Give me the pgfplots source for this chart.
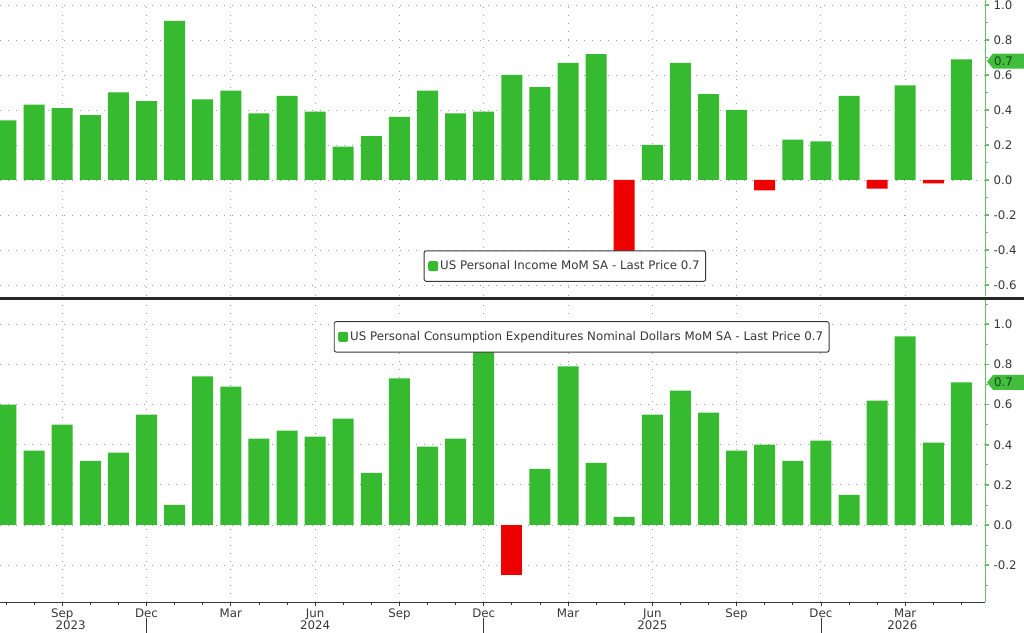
\documentclass[border=0pt]{standalone}
\usepackage{fontspec}
\setmainfont{DejaVu Sans}
\usepackage{pgfplots}
\pgfplotsset{compat=1.18}
\usepackage{pgfplotstable}

\definecolor{bargreen}{RGB}{54,186,48}
\definecolor{barred}{RGB}{238,0,0}
\definecolor{axgreen}{RGB}{100,192,100}
\definecolor{taggreen}{RGB}{66,190,60}
\definecolor{tagtext}{RGB}{25,70,25}
\definecolor{gridgray}{RGB}{165,165,165}
\definecolor{txt}{RGB}{55,55,55}
\definecolor{divider}{RGB}{40,40,40}

\pgfplotstableread{
i inc pce
0 0.34 0.60
1 0.43 0.37
2 0.41 0.50
3 0.37 0.32
4 0.50 0.36
5 0.45 0.55
6 0.91 0.10
7 0.46 0.74
8 0.51 0.69
9 0.38 0.43
10 0.48 0.47
11 0.39 0.44
12 0.19 0.53
13 0.25 0.26
14 0.36 0.73
15 0.51 0.39
16 0.38 0.43
17 0.39 0.87
18 0.60 -0.25
19 0.53 0.28
20 0.67 0.79
21 0.72 0.31
22 -0.42 0.04
23 0.20 0.55
24 0.67 0.67
25 0.49 0.56
26 0.40 0.37
27 -0.06 0.40
28 0.23 0.32
29 0.22 0.42
30 0.48 0.15
31 -0.05 0.62
32 0.54 0.94
33 -0.02 0.41
34 0.69 0.71
}\data

\newcommand\tickfont{\fontsize{11.8}{13}\selectfont}
\newcommand\legfont{\fontsize{11.8}{14}\selectfont}

\pgfplotsset{
  panel/.style={
    scale only axis,
    width=985pt,
    xmin=-0.2135, xmax=34.84,
    clip mode=individual,
    axis y line*=right,
    axis x line*=bottom,
    y axis line style={color=axgreen, line width=0.9pt},
    xtick={2,5,8,11,14,17,20,23,26,29,32},
    minor ytick={-0.5,-0.3,-0.1,0.1,0.3,0.5,0.7,0.9,1.1},
    tick align=outside,
    major tick length=4pt,
    minor tick length=3pt,
    major y tick style={color=axgreen, line width=1.6pt},
    minor y tick style={color=axgreen, line width=0.6pt},
    yticklabel style={font=\tickfont, text=txt, xshift=1pt,
      /pgf/number format/.cd, fixed, fixed zerofill, precision=1, assume math mode=true},
    grid=major,
    major grid style={gridgray, line width=0.9pt, dash pattern=on 1pt off 7pt},
    ybar, bar width=21pt, bar shift=0pt,
    legend cell align=left,
    legend image code/.code={\fill[bargreen] (0pt,-5pt) rectangle (10pt,5pt);},
    legend style={anchor=center, draw=txt, fill=white, line width=0.9pt,
      rounded corners=2pt, font=\legfont, text=txt,
      inner xsep=4pt, inner ysep=8pt},
  },
}

\begin{document}
\begin{tikzpicture}
\useasboundingbox (0,0) rectangle (1024pt,-632pt);

% ---------- top panel ----------
\begin{axis}[panel,
  at={(0,0)}, anchor=north west,
  height=296pt,
  ymin=-0.663, ymax=1.0286,
  ytick={-0.6,-0.4,-0.2,0,0.2,0.4,0.6,0.8,1.0},
  x axis line style={draw=none},
  major x tick style={draw=none},
  xticklabels={},
  legend style={at={(0.5735,0.101)}},
]
\addplot[fill=bargreen, draw=none, restrict y to domain=0:5] table[x=i, y=inc] {\data};
\addlegendentry{US Personal Income MoM SA - Last Price 0.7}
\addplot[fill=barred, draw=none, restrict y to domain=-5:0, forget plot] table[x=i, y=inc] {\data};
\fill[taggreen] (axis cs:34.84,0.68) ++(2pt,0pt) -- ++(6pt,7.5pt) -- ++(45pt,0pt) -- ++(0pt,-15pt) -- ++(-45pt,0pt) -- cycle;
\node[anchor=west, font=\tickfont, text=tagtext, inner sep=0pt, xshift=9pt] at (axis cs:34.84,0.68) {0.7};
\end{axis}

% ---------- bottom panel ----------
\begin{axis}[panel,
  at={(0,-300pt)}, anchor=north west,
  height=302pt,
  ymin=-0.3837, ymax=1.121,
  ytick={-0.2,0,0.2,0.4,0.6,0.8,1.0},
  x axis line style={color=txt, line width=0.9pt},
  xticklabels={Sep,Dec,Mar,Jun,Sep,Dec,Mar,Jun,Sep,Dec,Mar},
  minor xtick={0,1,...,34},
  major x tick style={color=txt, line width=0.8pt},
  minor x tick style={color=txt, line width=0.8pt},
  xticklabel style={font=\tickfont, text=txt, yshift=1pt},
  extra x ticks={2.3,11,23,31.9},
  extra x tick labels={2023,2024,2025,2026},
  extra x tick style={grid=none, major tick length=0pt, xticklabel style={yshift=-16pt}},
  legend style={at={(0.5905,0.878)}},
]
\addplot[fill=bargreen, draw=none, restrict y to domain=0:5] table[x=i, y=pce] {\data};
\addlegendentry{US Personal Consumption Expenditures Nominal Dollars MoM SA - Last Price 0.7}
\addplot[fill=barred, draw=none, restrict y to domain=-5:0, forget plot] table[x=i, y=pce] {\data};
\fill[taggreen] (axis cs:34.84,0.71) ++(2pt,0pt) -- ++(6pt,7.5pt) -- ++(45pt,0pt) -- ++(0pt,-15pt) -- ++(-45pt,0pt) -- cycle;
\node[anchor=west, font=\tickfont, text=tagtext, inner sep=0pt, xshift=9pt] at (axis cs:34.84,0.71) {0.7};
\draw[txt, line width=0.8pt] (axis cs:5,-0.3837) ++(0pt,-16pt) -- ++(0pt,-16pt);
\draw[txt, line width=0.8pt] (axis cs:17,-0.3837) ++(0pt,-16pt) -- ++(0pt,-16pt);
\draw[txt, line width=0.8pt] (axis cs:29,-0.3837) ++(0pt,-16pt) -- ++(0pt,-16pt);
\end{axis}

\draw[divider, line width=3pt] (0,-298.5pt) -- (1024pt,-298.5pt);
\end{tikzpicture}
\end{document}
